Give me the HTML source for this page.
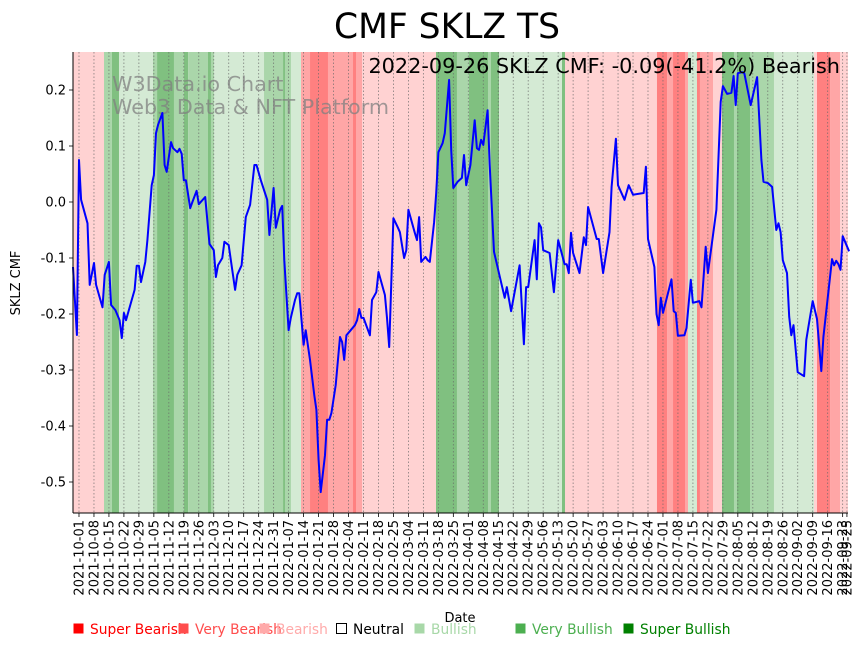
<!DOCTYPE html>
<html><head><meta charset="utf-8">
<style>
html,body{margin:0;padding:0;background:#fff;}
body{width:867px;height:646px;overflow:hidden;font-family:"Liberation Sans","DejaVu Sans",sans-serif;}
svg text{font-family:"DejaVu Sans","Liberation Sans",sans-serif;}
</style></head>
<body>
<svg id="chart" width="867" height="646" viewBox="0 0 867 646" xmlns="http://www.w3.org/2000/svg">
<text x="447" y="38" font-size="34.5" text-anchor="middle" fill="#000">CMF SKLZ TS</text>
<g id="bands"></g>
<g id="grid"></g>
<g id="wm">
<text x="112" y="91" font-size="20.7" fill="#808080" fill-opacity="0.75">W3Data.io Chart</text>
<text x="112" y="114" font-size="20.7" fill="#808080" fill-opacity="0.75">Web3 Data &amp; NFT Platform</text>
</g>
<path id="line" fill="none" stroke="#0000ff" stroke-width="2" stroke-linejoin="round"/>
<text x="840" y="73" font-size="20.8" text-anchor="end" fill="#000">2022-09-26 SKLZ CMF: -0.09(-41.2%) Bearish</text>
<g id="yaxis"></g>
<g id="xaxis"></g>
<text transform="translate(20,283) rotate(-90)" font-size="13" text-anchor="middle">SKLZ CMF</text>
<text x="460" y="622" font-size="13" text-anchor="middle">Date</text>
<g id="legend"></g>
</svg>
<script>
const days = [-3,-1,0,1,4,5,7,8,11,12,14,15,17,19,20,21,22,24,26,27,28,29,31,32,34,35,36,37,39,40,41,43,44,46,47,48,49,50,52,53,55,56,59,61,63,64,65,67,68,70,73,74,76,78,80,82,83,85,88,89,91,92,94,95,96,98,99,101,102,103,105,106,108,110,111,112,113,115,116,117,118,120,122,123,124,125,127,129,130,131,132,133,136,137,139,140,143,144,145,147,149,150,152,153,154,157,158,159,160,162,163,164,166,167,168,170,171,173,174,175,177,179,180,181,183,185,186,187,188,189,191,192,194,199,200,202,206,208,209,210,213,214,215,216,217,220,222,224,227,228,229,230,231,234,236,237,238,242,243,245,248,249,251,252,255,257,259,264,265,266,269,270,271,272,273,277,278,279,280,283,284,286,287,290,291,293,294,298,300,301,303,305,306,307,308,310,311,314,317,319,320,322,324,326,327,328,329,331,332,333,334,336,339,340,341,343,345,347,348,352,353,354,355,356,357,360];
const cmf = [-0.116,-0.2375,0.075,0.004,-0.038,-0.148,-0.109,-0.148,-0.188,-0.13,-0.107,-0.184,-0.193,-0.211,-0.243,-0.198,-0.211,-0.184,-0.157,-0.114,-0.114,-0.143,-0.107,-0.068,0.03,0.048,0.123,0.138,0.159,0.066,0.054,0.107,0.096,0.089,0.095,0.086,0.039,0.039,-0.011,0,0.02,-0.004,0.009,-0.075,-0.086,-0.134,-0.113,-0.1,-0.071,-0.077,-0.157,-0.13,-0.113,-0.027,-0.005,0.066,0.066,0.039,0.004,-0.059,0.025,-0.046,-0.014,-0.007,-0.104,-0.229,-0.207,-0.175,-0.163,-0.163,-0.255,-0.229,-0.282,-0.345,-0.371,-0.461,-0.518,-0.452,-0.389,-0.389,-0.377,-0.327,-0.241,-0.25,-0.282,-0.238,-0.229,-0.22,-0.211,-0.191,-0.207,-0.207,-0.238,-0.175,-0.161,-0.125,-0.166,-0.207,-0.259,-0.029,-0.045,-0.054,-0.1,-0.086,-0.014,-0.055,-0.068,-0.027,-0.107,-0.098,-0.104,-0.107,-0.036,0.016,0.089,0.105,0.123,0.218,0.093,0.025,0.036,0.043,0.084,0.03,0.066,0.146,0.096,0.093,0.111,0.102,0.164,0.066,-0.089,-0.171,-0.152,-0.195,-0.113,-0.254,-0.152,-0.152,-0.068,-0.138,-0.038,-0.045,-0.086,-0.091,-0.161,-0.068,-0.111,-0.111,-0.127,-0.055,-0.091,-0.127,-0.063,-0.077,-0.009,-0.066,-0.066,-0.127,-0.054,0.027,0.113,0.03,0.004,0.03,0.013,0.016,0.063,-0.066,-0.116,-0.2,-0.22,-0.171,-0.198,-0.138,-0.195,-0.198,-0.239,-0.238,-0.225,-0.139,-0.18,-0.177,-0.188,-0.08,-0.127,-0.014,0.179,0.207,0.193,0.195,0.225,0.173,0.23,0.232,0.23,0.173,0.223,0.075,0.036,0.034,0.027,-0.05,-0.038,-0.054,-0.104,-0.127,-0.205,-0.238,-0.22,-0.304,-0.311,-0.246,-0.223,-0.177,-0.209,-0.302,-0.241,-0.102,-0.113,-0.105,-0.111,-0.121,-0.061,-0.088];
const bandStart = [-2.8,11.7,15.4,18.7,34.6,36.5,44.4,49.1,51.0,60.3,61.7,63.1,86.5,95.4,96.3,99.1,103.8,108.0,116.4,128.1,129.5,132.3,166.9,176.7,182.3,191.2,192.6,196.4,225.8,227.2,270.2,274.9,277.7,283.3,284.7,288.9,290.3,296.4,300.6,306.2,307.6,313.7,324.9,343.6,345.0,351.1,355.8];
const bandEnd = [11.7,15.4,18.7,34.6,36.5,44.4,49.1,51.0,60.3,61.7,63.1,86.5,95.4,96.3,99.1,103.8,108.0,116.4,128.1,129.5,132.3,166.9,176.7,182.3,191.2,192.6,196.4,225.8,227.2,270.2,274.9,277.7,283.3,284.7,288.9,290.3,296.4,300.6,306.2,307.6,313.7,324.9,343.6,345.0,351.1,355.8,359.5];
const bandCat = [2,5,6,4,5,6,5,6,5,6,5,4,5,6,5,4,1,0,1,0,1,2,6,5,6,5,6,4,6,2,0,1,0,1,4,0,1,2,6,5,6,5,4,2,0,1,2];
const yTicks = [0.2,0.1,0.0,-0.1,-0.2,-0.3,-0.4,-0.5];
const catNames = ["Super Bearish","Very Bearish","Bearish","Neutral","Bullish","Very Bullish","Super Bullish"];

const NS="http://www.w3.org/2000/svg";
const catFill=["rgb(255,128,128)","rgb(255,166,166)","rgb(255,210,210)","#fff","rgb(212,234,212)","rgb(170,214,170)","rgb(128,192,128)"];
const legFill=["#ff0000","#ff4d4d","#ffaaaa","#fff","#a8d8a8","#4caf50","#008000"];
const legX=[73,178,259,336,414,515,623];
const X0=73,X1=848,D0=-2.8,D1=359.5,Y0=52,Y1=513;
function xs(d){return X0+(d-D0)*(X1-X0)/(D1-D0);}
function ys(v){return 202-v*560;}
function mk(tag,attrs,parent){const e=document.createElementNS(NS,tag);for(const k in attrs)e.setAttribute(k,attrs[k]);parent.appendChild(e);return e;}

const bands=document.getElementById('bands');
for(let i=0;i<bandCat.length;i++){
  const r=mk('rect',{x:xs(bandStart[i]),y:Y0,width:Math.max(0,xs(bandEnd[i])-xs(bandStart[i])),height:Y1-Y0,fill:catFill[bandCat[i]]},bands);
  
  
}
const grid=document.getElementById('grid'), xa=document.getElementById('xaxis');
const base=new Date(Date.UTC(2021,9,1));
function lab(d){const t=new Date(base.getTime()+d*86400000);return t.toISOString().slice(0,10);}
const weekDays=[];for(let d=0;d<=360;d+=7)weekDays.push(d);
weekDays.push(359);
weekDays.forEach(d=>{
  const x=xs(d);
  const g=mk('line',{x1:x,x2:x,y1:Y0,y2:Y1,stroke:'#666','stroke-width':0.8,'stroke-dasharray':'1.5,2','stroke-opacity':0.8},grid);
  
  
  mk('line',{x1:x,x2:x,y1:Y1,y2:Y1+4,stroke:'#000','stroke-width':0.8},xa);
  const t=mk('text',{transform:`translate(${x+4.5},${Y1+7}) rotate(-90)`,'font-size':13,'text-anchor':'end'},xa);
  t.textContent=lab(d);
  
  
});
mk('line',{x1:X0,x2:X1,y1:Y1,y2:Y1,stroke:'#000','stroke-width':1},xa);
const ya=document.getElementById('yaxis');
mk('line',{x1:X0,x2:X0,y1:Y0,y2:Y1,stroke:'#000','stroke-width':1},ya);
yTicks.forEach(v=>{
  const y=ys(v);
  mk('line',{x1:X0-4,x2:X0,y1:y,y2:y,stroke:'#000','stroke-width':0.8},ya);
  const t=mk('text',{x:X0-7,y:y+4.5,'font-size':13,'text-anchor':'end'},ya);
  t.textContent=v.toFixed(1);
  
  
});
let p='';
for(let i=0;i<days.length;i++){p+=(i?'L':'M')+Math.max(X0,xs(days[i])).toFixed(1)+','+ys(cmf[i]).toFixed(1);}
document.getElementById('line').setAttribute('d',p);
const lg=document.getElementById('legend');
catNames.forEach((n,i)=>{
  const g=mk('g',{},lg);
  
  
  mk('rect',{x:legX[i]+0.5,y:623.5,width:10,height:10,fill:legFill[i],stroke:i===3?'#000':'none','stroke-width':1},g);
  const t=mk('text',{x:legX[i]+17,y:634,'font-size':13.8,fill:i===3?'#000':legFill[i]},g);
  t.textContent=n;
});
</script>
</body></html>
